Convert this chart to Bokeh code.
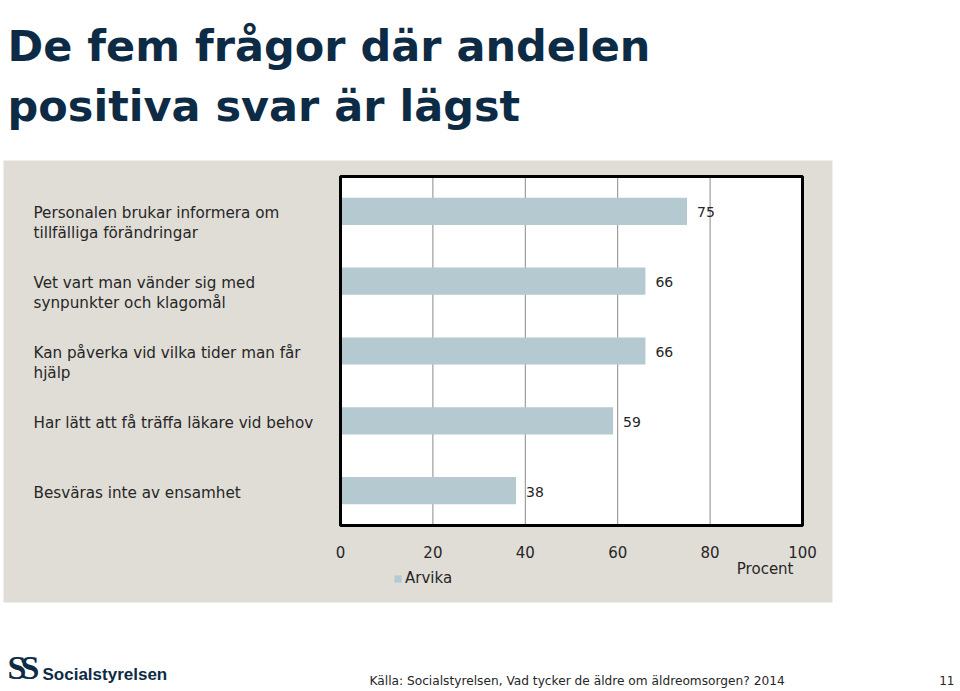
from bokeh.plotting import figure
from bokeh.models import (FactorRange, Range1d, Label, BoxAnnotation,
                          Legend, LegendItem, ColumnDataSource)
from bokeh.core.properties import value
from bokeh.embed import file_html
from bokeh.resources import INLINE

# ---------------- data ----------------
title_lines = ["De fem frågor där andelen", "positiva svar är lägst"]
categories = [
    "Personalen brukar informera om tillfälliga förändringar",
    "Vet vart man vänder sig med synpunkter och klagomål",
    "Kan påverka vid vilka tider man får hjälp",
    "Har lätt att få träffa läkare vid behov",
    "Besväras inte av ensamhet",
]
category_lines = [
    ["Personalen brukar informera om", "tillfälliga förändringar"],
    ["Vet vart man vänder sig med", "synpunkter och klagomål"],
    ["Kan påverka vid vilka tider man får", "hjälp"],
    ["Har lätt att få träffa läkare vid behov"],
    ["Besväras inte av ensamhet"],
]
values = [75, 66, 66, 59, 38]
series_name = "Arvika"
x_ticks = [0, 20, 40, 60, 80, 100]
grid_ticks = [20, 40, 60, 80]
x_min, x_max = 0, 100
axis_title = "Procent"
source_text = "Källa: Socialstyrelsen, Vad tycker de äldre om äldreomsorgen? 2014"
page_number = "11"
logo_text = "Socialstyrelsen"

# ---------------- layout (page pixels) ----------------
W, H = 960, 691
TOP = 10                               # canvas strip above the frame
PL, PT, PR, PB = 340, 176, 802, 525    # plot box edges in page pixels

BAR = "#b5c9d1"
PANEL = "#e0ddd6"
NAVY = "#0e2b45"
TXT = "#262626"
FONT = "DejaVu Sans"

# x range chosen so that x_min..x_max fills the plot box
px_per_unit = (PR - PL) / (x_max - x_min)
x_range = Range1d(x_min - PL / px_per_unit, x_min + (W - PL) / px_per_unit)

# y: categorical, padded (absolute padding is applied on each side)
factors = list(reversed(categories))
band = (PB - PT) / len(factors)
pad_units = (PT - TOP) / band
y_range = FactorRange(factors=factors, range_padding=pad_units, range_padding_units="absolute")

p = figure(width=W, height=H, title=None, x_range=x_range, y_range=y_range,
           x_axis_location=None, y_axis_location=None,
           output_backend="svg", toolbar_location=None,
           min_border=0, min_border_top=TOP)
p.background_fill_color = "white"
p.border_fill_color = "white"
p.outline_line_color = None
p.xgrid.visible = False
p.ygrid.visible = False

def sx(cx):
    return cx

def sy(cy):
    return H - cy

# grey panel
p.add_layout(BoxAnnotation(left=sx(3), right=sx(832), top=sy(160), bottom=sy(602),
                           left_units="screen", right_units="screen",
                           top_units="screen", bottom_units="screen",
                           fill_color=PANEL, fill_alpha=1, line_color=None, level="image"))

box_src = ColumnDataSource(dict(left=[x_min], right=[x_max],
                                bottom=[(factors[0], -0.5)], top=[(factors[-1], 0.5)]))
p.quad(left="left", right="right", bottom="bottom", top="top", source=box_src,
       fill_color="white", line_color=None)

grid_src = ColumnDataSource(dict(x=grid_ticks,
                                 y0=[(factors[0], -0.5)] * len(grid_ticks),
                                 y1=[(factors[-1], 0.5)] * len(grid_ticks)))
p.segment(x0="x", x1="x", y0="y0", y1="y1", source=grid_src,
          line_color="#8a8a8a", line_width=1)

src = ColumnDataSource(dict(cat=categories, val=values, lbl=[str(v) for v in values]))
bars = p.hbar(y="cat", right="val", left=0, height=0.39, source=src,
              fill_color=BAR, line_color=None)
p.text(x="val", y="cat", text="lbl", source=src, x_offset=10, y_offset=1,
       text_baseline="middle", text_align="left",
       text_font=value(FONT), text_font_size="14px", text_color=TXT)

p.quad(left="left", right="right", bottom="bottom", top="top", source=box_src,
       fill_color=None, line_color="black", line_width=3)

# tick labels
for t in x_ticks:
    p.add_layout(Label(x=t, x_units="data", y=sy(551), y_units="screen", text=str(t),
                       text_align="center", text_baseline="middle",
                       text_font=FONT, text_font_size="15px", text_color=TXT))

# category labels, at each factor's coordinate on the categorical axis
for cat, lines in zip(categories, category_lines):
    ycenter = factors.index(cat) + 0.5
    for i, ln in enumerate(lines):
        p.add_layout(Label(x=sx(33), x_units="screen", y=ycenter, y_units="data",
                           y_offset=-(2 + 20 * i), text=ln,
                           text_align="left", text_baseline="middle",
                           text_font=FONT, text_font_size="15.2px", text_color=TXT))

def lab(text, cx, cy, size, color=TXT, font=FONT, style="normal", align="left", baseline="middle"):
    p.add_layout(Label(x=sx(cx), y=sy(cy), x_units="screen", y_units="screen", text=text,
                       text_align=align, text_baseline=baseline,
                       text_font=font, text_font_size=size,
                       text_font_style=style, text_color=color))

lab(axis_title, 793, 568, "15px", align="right")

legend = Legend(items=[LegendItem(label=series_name, renderers=[bars])],
                location=(393, H - 587), orientation="horizontal",
                glyph_width=9, glyph_height=9, label_standoff=3,
                padding=0, margin=0, spacing=0,
                background_fill_alpha=0, border_line_color=None,
                label_text_font=FONT, label_text_font_size="15px",
                label_text_color=TXT)
p.add_layout(legend)

# title
lab(title_lines[0], 7, 45, "43px", color=NAVY, font="DejaVu Sans", style="bold", baseline="alphabetic")
lab(title_lines[1], 7, 105, "43px", color=NAVY, font="DejaVu Sans", style="bold", baseline="alphabetic")

# footer
lab("S", 7, 667, "34px", color=NAVY, font="Liberation Serif", style="bold")
lab("S", 20, 667, "34px", color=NAVY, font="Liberation Serif", style="bold")
lab(logo_text, 42, 674, "17px", color=NAVY, font="Liberation Sans", style="bold")
lab(source_text, 369, 680, "12.2px", color=TXT)
lab(page_number, 954, 680, "12px", color=TXT, align="right")

open("out.html", "w").write(file_html(p, INLINE))
